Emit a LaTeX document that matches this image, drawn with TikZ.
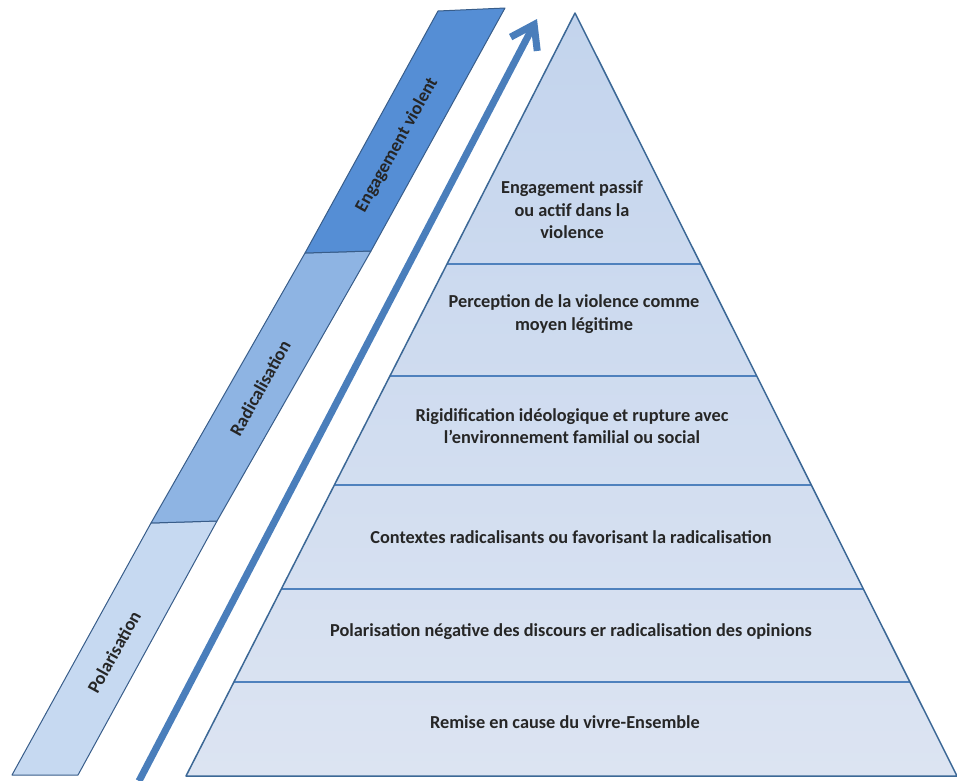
\documentclass[tikz,border=0pt]{standalone}
\usepackage{fontspec}
\setmainfont{Carlito}
\usetikzlibrary{arrows.meta, calc}
\definecolor{bandpale}{RGB}{198,217,241}
\definecolor{bandmid}{RGB}{142,180,227}
\definecolor{banddark}{RGB}{85,142,213}
\definecolor{bandline}{RGB}{56,93,138}
\definecolor{pyrtop}{RGB}{195,212,237}
\definecolor{pyrbot}{RGB}{220,228,242}
\definecolor{pyrline}{RGB}{60,104,150}
\definecolor{divline}{RGB}{79,129,189}
\definecolor{flowblue}{RGB}{74,126,187}
\tikzset{
  pyrtext/.style = {align = center, font = \fontsize{18.3}{22.5}\selectfont\bfseries, text = black!85},
  bandtext/.style = {font = \fontsize{18.3}{22.5}\selectfont\bfseries, text = black!85, rotate = 60.9},
  bandcell/.style = {draw = bandline, line width = 1pt, line join = round},
  divider/.style = {draw = divline, line width = 2pt}
}
\begin{document}
\begin{tikzpicture} [x = 1pt, y = -1pt]
\useasboundingbox (0, 0) rectangle (957, 780);

\draw[bandcell, fill = bandpale] (12, 775) -- (78, 775) -- (217, 521) -- (151, 523) -- cycle;
\draw[bandcell, fill = bandmid] (151, 523) -- (217, 521) -- (371, 251) -- (305, 253) -- cycle;
\draw[bandcell, fill = banddark] (305, 253) -- (371, 251) -- (505, 8) -- (438, 11) -- cycle;
\node[bandtext] (polar) at (114, 652){Polarisation};
\node[bandtext] (radical) at (260, 388){Radicalisation};
\node[bandtext] (engage) at (397, 145){Engagement violent};

\coordinate (arrowfoot) at (139, 781);
\coordinate (arrowtip) at (537, 19);
\draw[flowblue, line width = 7pt, -{Straight Barb[length = 22pt, width = 30pt]}] (arrowfoot) -- (arrowtip);

\coordinate (apex) at (575, 13);
\coordinate (bl) at (186, 776);
\coordinate (br) at (957, 776);
\shade[top color = pyrtop, bottom color = pyrbot] (apex) -- (br) -- (bl) -- cycle;
\foreach \t in {0.329, 0.476, 0.619, 0.755, 0.877}
  \draw[divider] ($(apex)!\t!(bl)$) -- ($(apex)!\t!(br)$);
\draw[pyrline, line width = 1.5pt, line join = round] (apex) -- (br) -- (bl) -- cycle;

\node[pyrtext] (niv6) at (572, 210){Engagement passif\\ou actif dans la\\violence};
\node[pyrtext] (niv5) at (574, 314){Perception de la violence comme\\moyen légitime};
\node[pyrtext] (niv4) at (572, 426){Rigidification idéologique et rupture avec\\l’environnement familial ou social};
\node[pyrtext] (niv3) at (571, 537){Contextes radicalisants ou favorisant la radicalisation};
\node[pyrtext] (niv2) at (571, 632){Polarisation négative des discours er radicalisation des opinions};
\node[pyrtext] (niv1) at (565, 722){Remise en cause du vivre-Ensemble};
\end{tikzpicture}
\end{document}
